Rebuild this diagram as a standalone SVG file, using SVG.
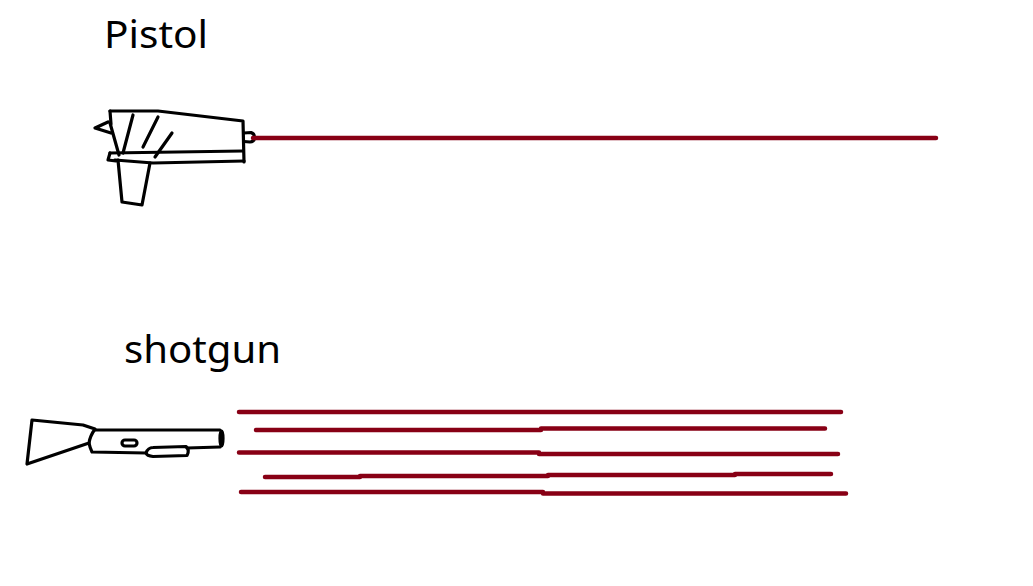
<svg xmlns="http://www.w3.org/2000/svg" width="1033" height="586" viewBox="0 0 1033 586">
  <style>
    .ink { fill: none; stroke: #000; stroke-width: 3.2; stroke-linecap: round; stroke-linejoin: round; }
    .shot { fill: none; stroke: #880015; stroke-width: 4.5; stroke-linecap: round; stroke-linejoin: round; }
    .lbl { font-family: "Noto Sans", "Open Sans", "Liberation Sans", sans-serif; font-size: 38px; fill: #000; }
  </style>
  <rect width="1033" height="586" fill="#fff"/>

  <g id="label-pistol">
    <text class="lbl" x="104" y="48" textLength="104" lengthAdjust="spacingAndGlyphs">Pistol</text>
  </g>

  <g id="pistol">
    <path class="ink" d="M110,111 L158,111 L243,121 L244,162"/>
    <path class="ink" d="M110,111 L111,124"/>
    <path class="ink" d="M108,122 L95,128 L111,133"/>
    <path class="ink" d="M110,123 L119,155"/>
    <path class="ink" d="M110,153 L243,151"/>
    <path class="ink" d="M110,153 L108,160 L116,161"/>
    <path class="ink" d="M115,160 L153,163 L244,161"/>
    <path class="ink" d="M118,160 L122,202 L142,205 L150,163"/>
    <path class="ink" d="M133,115 L123,153"/>
    <path class="ink" d="M158,117 L143,147"/>
    <path class="ink" d="M172,133 L155,157"/>
    <path class="ink" d="M244,133 L251,132.5 Q255,134 254.5,138 Q254,142 250,142 L244,141.5"/>
  </g>

  <g id="label-shotgun">
    <text class="lbl" x="124" y="363" textLength="157" lengthAdjust="spacingAndGlyphs">shotgun</text>
  </g>

  <g id="shotgun">
    <path class="ink" d="M32,420 L83,425 L95,429 Q90,436 89,443 L27,464 Z"/>
    <path class="ink" d="M95,430 L220,430"/>
    <path class="ink" d="M89,443 Q90,448 92,452 L146,453"/>
    <path class="ink" d="M146,453 Q148,447.5 153,447.5 L186,446.5 Q190,450 187,455.5 L153,456.5 Q147,456 146,453"/>
    <path class="ink" d="M187,448 L220,447"/>
    <ellipse class="ink" cx="221.5" cy="438.5" rx="1.5" ry="7.5"/>
    <rect class="ink" x="122" y="440" width="15" height="6" rx="3"/>
  </g>

  <g id="connectors">
    <path class="shot" d="M253,138 L936,138"/>
    <path class="shot" d="M239,412 L841,412"/>
    <path class="shot" d="M256,430 L541,430 L541,428.5 L825,428.5"/>
    <path class="shot" d="M239,452.5 L539,452.5 L539,454 L838,454"/>
    <path class="shot" d="M265,477 L360,477 L360,476 L548,476 L548,475 L735,475 L735,474 L831,474"/>
    <path class="shot" d="M241,492 L543,492 L543,493.5 L846,493.5"/>
  </g>
</svg>
